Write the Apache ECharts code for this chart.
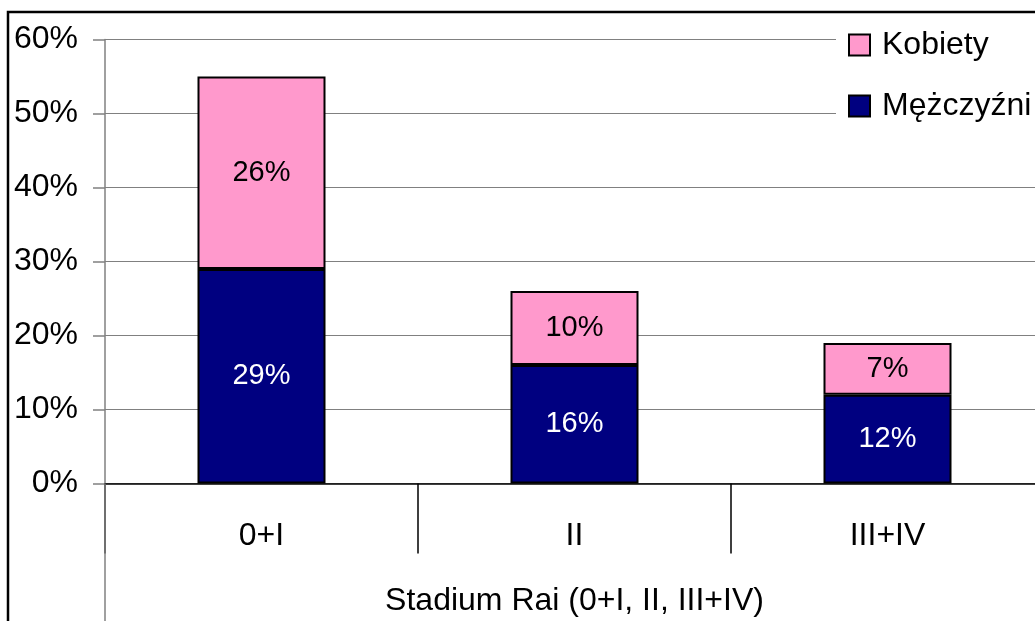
<!DOCTYPE html>
<html>
<head>
<meta charset="utf-8">
<script src="https://cdn.jsdelivr.net/npm/echarts@6/dist/echarts.min.js"></script>
<style>
  html, body { margin: 0; padding: 0; background: #fff; }
  #chart { width: 1035px; height: 621px; }
</style>
</head>
<body>
<div id="chart"></div>
<script>
// Rai stage distribution by sex (percent of patients)
const categories = ['0+I', 'II', 'III+IV'];
const men = [29, 16, 12];
const women = [26, 10, 7];
const yTicks = [0, 10, 20, 30, 40, 50, 60];
const seriesNames = ['Kobiety', 'Mężczyźni'];
const axisTitle = 'Stadium Rai (0+I, II, III+IV)';

const FONT = "'Liberation Sans', Arial, sans-serif";
const GRID = { left: 105, top: 39.5, width: 939, height: 444 };

const chart = echarts.init(document.getElementById('chart'), null, { renderer: 'canvas' });

const barLabel = (color) => ({
  show: true,
  position: 'inside',
  formatter: '{c}%',
  color: color,
  fontFamily: FONT,
  fontSize: 29
});

chart.setOption({
  animation: false,
  backgroundColor: '#ffffff',
  textStyle: { fontFamily: FONT },
  grid: Object.assign({ outerBoundsMode: 'none', containLabel: false }, GRID),
  legend: {
    orient: 'vertical',
    left: 836,
    top: 17,
    padding: [12, 60, 12, 12],
    backgroundColor: '#ffffff',
    icon: 'rect',
    itemWidth: 21,
    itemHeight: 21,
    itemGap: 29,
    data: [seriesNames[0], seriesNames[1]],
    textStyle: { fontFamily: FONT, fontSize: 32, color: '#000', lineHeight: 30, padding: [0, 0, 0, 7] }
  },
  xAxis: {
    type: 'category',
    data: categories,
    boundaryGap: true,
    axisLine: { show: true, lineStyle: { color: '#000', width: 1.5 } },
    axisTick: { show: true, length: 70, interval: 0, lineStyle: { color: '#000', width: 1.5 } },
    axisLabel: { margin: 37, fontFamily: FONT, fontSize: 32, color: '#000' },
    name: axisTitle,
    nameLocation: 'middle',
    nameGap: 102,
    nameTextStyle: { fontFamily: FONT, fontSize: 32, color: '#000' }
  },
  yAxis: {
    type: 'value',
    min: yTicks[0],
    max: yTicks[yTicks.length - 1],
    interval: 10,
    axisLine: { show: true, lineStyle: { color: '#808080', width: 1.5 } },
    axisTick: { show: true, length: 12, lineStyle: { color: '#808080', width: 1.5 } },
    axisLabel: { margin: 27, formatter: '{value}%', fontFamily: FONT, fontSize: 32, color: '#000' },
    splitLine: { show: true, lineStyle: { color: '#808080', width: 1.2 } }
  },
  series: [
    {
      name: seriesNames[1],
      type: 'bar',
      stack: 'total',
      data: men,
      barWidth: 128,
      itemStyle: { color: '#000080', borderColor: '#000', borderWidth: 2 },
      label: barLabel('#ffffff')
    },
    {
      name: seriesNames[0],
      type: 'bar',
      stack: 'total',
      data: women,
      barWidth: 128,
      itemStyle: { color: '#FF99CC', borderColor: '#000', borderWidth: 2 },
      label: barLabel('#000000')
    }
  ],
  graphic: [
    // chart frame
    { type: 'rect', shape: { x: 8, y: 12, width: 1200, height: 800 },
      style: { fill: 'none', stroke: '#000', lineWidth: 2.5 }, silent: true, z: 100 },
    // value axis continues down through the category label band
    { type: 'line', shape: { x1: GRID.left, y1: GRID.top + GRID.height, x2: GRID.left, y2: 621 },
      style: { stroke: '#808080', lineWidth: 1.5 }, silent: true, z: 1 }
  ]
});
</script>
</body>
</html>
